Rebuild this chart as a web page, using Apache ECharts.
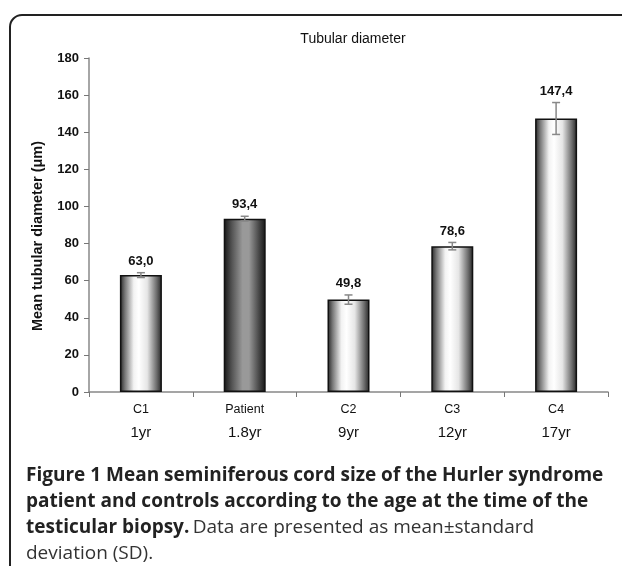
<!DOCTYPE html>
<html>
<head>
<meta charset="utf-8">
<script src="https://cdn.jsdelivr.net/npm/echarts@6/dist/echarts.min.js"></script>
<style>html,body{margin:0;padding:0;background:#fff}#c{width:622px;height:566px}</style>
</head>
<body>
<div id="c"></div>
<script>
var categories = ['C1', 'Patient', 'C2', 'C3', 'C4'];
var ages = ['1yr', '1.8yr', '9yr', '12yr', '17yr'];
var means = [63.0, 93.4, 49.8, 78.6, 147.4];
var sds = [1.3, 1.3, 2.5, 2.0, 8.6];
var yTicks = [0, 20, 40, 60, 80, 100, 120, 140, 160, 180];

var lightGrad = new echarts.graphic.LinearGradient(0, 0, 1, 0, [
  {offset: 0, color: '#222'}, {offset: 0.12, color: '#777'}, {offset: 0.33, color: '#f2f2f2'},
  {offset: 0.45, color: '#fff'}, {offset: 0.65, color: '#e6e6e6'}, {offset: 0.88, color: '#6a6a6a'},
  {offset: 1, color: '#222'}]);
var darkGrad = new echarts.graphic.LinearGradient(0, 0, 1, 0, [
  {offset: 0, color: '#151515'}, {offset: 0.2, color: '#555'}, {offset: 0.45, color: '#999'},
  {offset: 0.6, color: '#999'}, {offset: 0.85, color: '#444'}, {offset: 1, color: '#151515'}]);

var chart = echarts.init(document.getElementById('c'), null, {renderer: 'canvas'});
var F = 'Liberation Sans, Arial, sans-serif';
var CF = '"Open Sans", sans-serif';
chart.setOption({
  animation: false,
  backgroundColor: '#fff',
  title: {text: 'Tubular diameter', left: 348, top: 27, textAlign: 'center',
    textStyle: {fontFamily: F, fontSize: 14, fontWeight: 'normal', color: '#111'}},
  grid: {left: 89, right: 14, top: 58, bottom: 174},
  xAxis: {
    type: 'category', data: categories,
    axisLine: {lineStyle: {color: '#888', width: 1.5}},
    axisTick: {show: true, length: 5, lineStyle: {color: '#777'}},
    axisLabel: {
      margin: 6, interval: 0,
      formatter: function (v, i) { return '{a|' + v + '}\n{b|' + ages[i] + '}'; },
      rich: {
        a: {fontFamily: F, fontSize: 12.5, color: '#111', lineHeight: 24},
        b: {fontFamily: F, fontSize: 15, color: '#111', lineHeight: 22}
      }
    }
  },
  yAxis: {
    type: 'value', min: 0, max: 180, interval: 20,
    axisLine: {show: true, lineStyle: {color: '#888', width: 1.5}},
    axisTick: {show: true, length: 5, lineStyle: {color: '#777'}},
    splitLine: {show: false},
    axisLabel: {fontFamily: F, fontSize: 13, fontWeight: 'bold', color: '#111', margin: 10,
      formatter: function (v) { return yTicks.indexOf(v) >= 0 ? String(v) : ''; }}
  },
  series: [
    {
      type: 'bar', barWidth: 42,
      data: means.map(function (v, i) {
        return {value: v, itemStyle: {color: i === 1 ? darkGrad : lightGrad, borderColor: '#111', borderWidth: 1.5}};
      })
    },
    {
      type: 'custom',
      data: means.map(function (v, i) { return [i, v, sds[i]]; }),
      renderItem: function (params, api) {
        var x = api.value(0), m = api.value(1), s = api.value(2);
        var top = api.coord([x, m + s]);
        var bot = api.coord([x, m - s]);
        var cw = 4;
        var st = {stroke: '#888', lineWidth: 1.5};
        return {type: 'group', children: [
          {type: 'line', shape: {x1: top[0], y1: top[1], x2: bot[0], y2: bot[1]}, style: st},
          {type: 'line', shape: {x1: top[0] - cw, y1: top[1], x2: top[0] + cw, y2: top[1]}, style: st},
          {type: 'line', shape: {x1: bot[0] - cw, y1: bot[1], x2: bot[0] + cw, y2: bot[1]}, style: st},
          {type: 'text', x: top[0], y: top[1] - 5,
            style: {text: m.toFixed(1).replace('.', ','), textAlign: 'center', textVerticalAlign: 'bottom',
              font: 'bold 13px ' + F, fill: '#111'}}
        ]};
      },
      z: 5
    }
  ],
  graphic: [
    {type: 'rect', shape: {x: 10, y: 15, width: 700, height: 700, r: 12},
      style: {fill: 'none', stroke: '#222', lineWidth: 2}, silent: true},
    {type: 'text', x: 38, y: 236, rotation: Math.PI / 2, style: {
      text: 'Mean tubular diameter (\u03bcm)', textAlign: 'center', textVerticalAlign: 'middle',
      font: 'bold 14.5px ' + F, fill: '#111'}},
    {type: 'text', left: 26, top: 466, style: {
      text: '{b|Figure 1 Mean seminiferous cord size of the Hurler syndrome}\n' +
            '{b|patient and controls according to the age at the time of the}\n' +
            '{b|testicular biopsy.} {n|Data are presented as mean\u00b1standard}\n' +
            '{n|deviation (SD).}',
      rich: {
        b: {fontFamily: CF, fontSize: 19, fontWeight: 'bold', fill: '#222', lineHeight: 26},
        n: {fontFamily: CF, fontSize: 19, fontWeight: 'normal', fill: '#333', lineHeight: 26}
      }
    }}
  ]
});
</script>
</body>
</html>
